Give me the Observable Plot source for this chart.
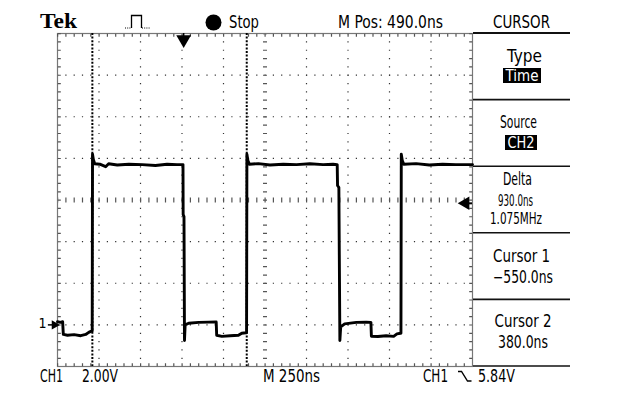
<!DOCTYPE html>
<html><head><meta charset="utf-8">
<script src="https://cdn.jsdelivr.net/npm/d3@7"></script>
<script src="https://cdn.jsdelivr.net/npm/@observablehq/plot@0.6"></script>
<style>
html,body{margin:0;padding:0;background:#fff;}
#chart{width:620px;height:414px;overflow:hidden;}
</style></head><body><div id="chart"></div>
<script>
// ---- scope settings (time in ns relative to trigger, CH1 volts) ----
const timeDomain = [-760, 1740];      // 10 div x 250 ns, M Pos 490 ns
const voltDomain = [-2, 14];          // 8 div x 2.00 V
const gridTimes = [-510, -260, -10, 240, 740, 990, 1240, 1490];
const centerTime = [490];
const gridVolts = [12, 10, 8, 4, 2, 0];
const centerVolt = [6];
const cursorTimes = [-550, 380];
const triggerTime = [0];
const triggerLevel = [5.84];
const groundLevel = [0];

// ---- CH1 trace ----
const traceTimes = [
  -760, -742, -729, -725, -700, -660, -620, -590, -572, -556, -551,
  -549, -544, -536, -505, -470, -452, -400, -330, -250, -170, -100, -40, -4,
  -3, 2, 5, 9, 30, 90, 150, 196,
  199, 230, 280, 330, 350, 376, 379,
  381, 387, 396, 450, 520, 600, 680, 760, 840, 900, 925,
  927, 935, 941, 946, 970, 1040, 1100, 1128,
  1131, 1170, 1220, 1265, 1285, 1306, 1309,
  1311, 1317, 1326, 1400, 1480, 1560, 1640, 1740
];
const traceVolts = [
  0.15, 0.12, 0.15, -0.46, -0.5, -0.47, -0.52, -0.46, -0.36, -0.3, -0.3,
  8.2, 7.95, 7.74, 7.72, 7.6, 7.74, 7.68, 7.72, 7.7, 7.66, 7.72, 7.7, 7.7,
  5.3, 5.2, -0.75, 0.0, 0.08, 0.12, 0.13, 0.14,
  -0.5, -0.55, -0.52, -0.5, -0.4, -0.38, -0.38,
  8.2, 7.9, 7.72, 7.75, 7.68, 7.72, 7.7, 7.74, 7.7, 7.72, 7.7,
  6.7, 6.6, -0.75, -0.1, 0.05, 0.12, 0.13, 0.12,
  -0.55, -0.56, -0.52, -0.55, -0.43, -0.4, -0.4,
  8.2, 7.9, 7.72, 7.75, 7.68, 7.72, 7.7, 7.7
];

// ---- on-screen readouts ----
const headerLabels = ["Tek", "Stop", "M Pos: 490.0ns", "CURSOR"];
const panelLabels = [
  ["Type", "Time"],
  ["Source", "CH2"],
  ["Delta", "930.0ns", "1.075MHz"],
  ["Cursor 1", "\u2212550.0ns"],
  ["Cursor 2", "380.0ns"]
];
const footerLabels = ["CH1", "2.00V", "M 250ns", "CH1", "5.84V"];

const trace = traceTimes.map((t, i) => ({t, v: traceVolts[i]}));
const FONT = "'Liberation Sans Narrow','DejaVu Sans Condensed','Liberation Sans',sans-serif";

function label(g, str, x, y, o = {}) {
  const t = g.append("text").attr("x", x).attr("y", y).text(str)
    .attr("font-family", o.family || FONT)
    .attr("font-size", o.size || 17)
    .attr("font-weight", o.weight || "normal")
    .attr("fill", o.fill || "#000")
    .attr("text-anchor", o.anchor || "start");
  if (o.len) t.attr("textLength", o.len).attr("lengthAdjust", "spacingAndGlyphs");
  return t;
}

function scopeChrome() {
  const g = d3.create("svg:g");
  // header
  label(g, headerLabels[0], 40, 28, {family: "'Liberation Serif','DejaVu Serif',serif", weight: "bold", size: 20, len: 37});
  g.append("line").attr("x1", 125).attr("x2", 131.5).attr("y1", 28).attr("y2", 28)
    .attr("stroke", "#000").attr("stroke-dasharray", "1 1.2");
  g.append("path").attr("d", "M131.5,28V15.5H141.5V28").attr("fill", "none").attr("stroke", "#000").attr("stroke-width", 1.3);
  g.append("line").attr("x1", 142).attr("x2", 150).attr("y1", 28).attr("y2", 28)
    .attr("stroke", "#000").attr("stroke-dasharray", "1 1.2");
  g.append("circle").attr("cx", 213.5).attr("cy", 22.5).attr("r", 8).attr("fill", "#000");
  label(g, headerLabels[1], 229, 28, {len: 30});
  label(g, headerLabels[2], 338, 28, {len: 105});
  label(g, headerLabels[3], 493, 28, {len: 57});

  // right-hand menu
  for (let k = 0; k <= 5; k++) {
    const y = 33 + k * 66.6;
    g.append("line").attr("x1", 473).attr("x2", 570).attr("y1", y).attr("y2", y)
      .attr("stroke", "#111").attr("stroke-width", k === 0 ? 2 : 1.6);
  }
  // Type / Time
  label(g, panelLabels[0][0], 524.5, 62, {anchor: "middle", len: 35});
  g.append("rect").attr("x", 503).attr("y", 68).attr("width", 38).attr("height", 15).attr("fill", "#000");
  label(g, panelLabels[0][1], 522, 81, {anchor: "middle", len: 33, fill: "#fff", size: 16});
  // Source / CH2
  label(g, panelLabels[1][0], 518.5, 128, {anchor: "middle", len: 37});
  g.append("rect").attr("x", 505).attr("y", 135).attr("width", 32).attr("height", 15).attr("fill", "#000");
  label(g, panelLabels[1][1], 521, 148, {anchor: "middle", len: 27, fill: "#fff", size: 16});
  // Delta
  label(g, panelLabels[2][0], 517.5, 185, {anchor: "middle", len: 29});
  label(g, panelLabels[2][1], 515.5, 205.5, {anchor: "middle", len: 35, size: 15.5});
  label(g, panelLabels[2][2], 516, 223.5, {anchor: "middle", len: 52, size: 15.5});
  // Cursor 1
  label(g, panelLabels[3][0], 521.5, 262, {anchor: "middle", len: 57});
  label(g, panelLabels[3][1], 523, 283, {anchor: "middle", len: 60});
  // Cursor 2
  label(g, panelLabels[4][0], 523, 327, {anchor: "middle", len: 57});
  label(g, panelLabels[4][1], 523, 348, {anchor: "middle", len: 50});

  // footer
  label(g, footerLabels[0], 40, 382, {len: 23});
  label(g, footerLabels[1], 82, 382, {len: 36});
  label(g, footerLabels[2], 263, 382, {len: 57});
  label(g, footerLabels[3], 423, 382, {len: 25});
  g.append("path").attr("d", "M458,371.5h3.5L467.5,381h4").attr("fill", "none").attr("stroke", "#000").attr("stroke-width", 1.4);
  label(g, footerLabels[4], 478, 382, {len: 37});
  return g.node();
}

const plot = Plot.plot({
  width: 620,
  height: 414,
  marginLeft: 57,
  marginRight: 148,
  marginTop: 33,
  marginBottom: 48,
  x: {domain: timeDomain, axis: null},
  y: {domain: voltDomain, axis: null},
  style: {background: "#fff", overflow: "visible"},
  marks: [
    // graticule
    Plot.ruleX(gridTimes, {stroke: "#333", strokeWidth: 1.2, strokeDasharray: "1.2 7.125"}),
    Plot.ruleY(gridVolts, {stroke: "#333", strokeWidth: 1.2, strokeDasharray: "1.2 7.1"}),
    Plot.ruleX(centerTime, {stroke: "#555", strokeWidth: 4, strokeDasharray: "1.2 7.125"}),
    Plot.ruleY(centerVolt, {stroke: "#555", strokeWidth: 5, strokeDasharray: "1.2 7.1"}),
    Plot.frame({stroke: "#777", strokeWidth: 1.2}),
    Plot.ruleY([voltDomain[1]], {dy: 1.8, stroke: "#555", strokeWidth: 3, strokeDasharray: "1.2 7.1"}),
    Plot.ruleY([voltDomain[0]], {dy: -1.8, stroke: "#555", strokeWidth: 3, strokeDasharray: "1.2 7.1"}),
    Plot.ruleX([timeDomain[0]], {dx: 1.8, stroke: "#555", strokeWidth: 3, strokeDasharray: "1.2 7.125"}),
    Plot.ruleX([timeDomain[1]], {dx: -1.8, stroke: "#555", strokeWidth: 3, strokeDasharray: "1.2 7.125"}),
    // cursors
    Plot.ruleX(cursorTimes, {stroke: "#000", strokeWidth: 2, strokeDasharray: "2 1.6"}),
    // trigger position marker (top) and trigger level marker (right)
    Plot.dot(triggerTime, {x: d => d, frameAnchor: "top", dy: 6, symbol: "triangle", r: 5.5, rotate: 180, fill: "#000", stroke: null}),
    Plot.ruleX(triggerTime, {y1: voltDomain[1], y2: voltDomain[1] - 0.15, stroke: "#000", strokeWidth: 1.5}),
    Plot.dot(triggerLevel, {y: d => d, x: timeDomain[1], dx: -7, symbol: "triangle", r: 5, rotate: -90, fill: "#000", stroke: null}),
    Plot.ruleY(triggerLevel, {x1: timeDomain[1] - 40, x2: timeDomain[1], stroke: "#000", strokeWidth: 2}),
    // ground reference marker "1 ->"
    Plot.text(groundLevel, {y: d => d, x: timeDomain[0], dx: -15, dy: -1, text: () => "1", fontSize: 14, fontFamily: FONT, fill: "#000"}),
    Plot.dot(groundLevel, {y: d => d, x: timeDomain[0], dx: -3, symbol: "triangle", r: 3.5, rotate: 90, fill: "#000", stroke: null}),
    Plot.ruleY(groundLevel, {x1: timeDomain[0] - 55, x2: timeDomain[0], stroke: "#000", strokeWidth: 1.5}),
    // CH1 trace
    Plot.line(trace, {x: "t", y: "v", stroke: "#000", strokeWidth: 2.9, curve: "linear"}),
    // readouts
    scopeChrome
  ]
});
document.getElementById("chart").append(plot);
</script>
</body></html>
